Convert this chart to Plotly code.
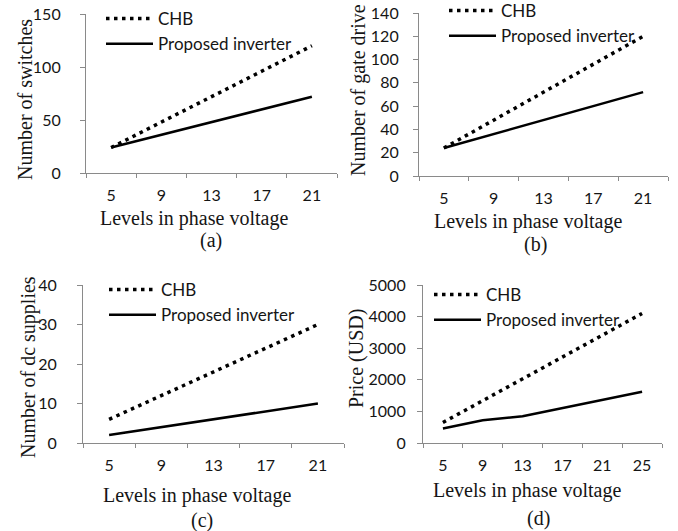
import plotly.graph_objects as go

# Levels in the phase voltage (category axis)
levels_abc = ["5", "9", "13", "17", "21"]
levels_d = ["5", "9", "13", "17", "21", "25"]

# (a) Number of switches
switches_chb = [24, 48, 72, 96, 120]
switches_prop = [24, 36, 48, 60, 72]

# (b) Number of gate drives
gate_chb = [24, 48, 72, 96, 120]
gate_prop = [24, 36, 48, 60, 72]

# (c) Number of dc supplies
dc_chb = [6, 12, 18, 24, 30]
dc_prop = [2, 4, 6, 8, 10]

# (d) Price in USD
price_chb = [650, 1340, 2030, 2720, 3410, 4100]
price_prop = [460, 720, 850, 1100, 1350, 1620]

y_titles = ["Number of switches", "Number of gate drive", "Number of dc supplies", "Price (USD)"]
x_title = "Levels in phase voltage"
panel_tags = ["(a)", "(b)", "(c)", "(d)"]

W, H = 678, 531
SANS = "Lato, 'Open Sans', sans-serif"
SERIF = "'Liberation Serif', 'Times New Roman', serif"
AXIS_GREY = "#8a8a8a"
INK = "#151515"

# panel boxes in pixels: (x0, x1, ytop, ybottom)
boxes = [(86, 337, 14, 173), (419, 668, 13, 176), (83, 344, 285, 443), (423, 662, 285, 443)]
y_ranges = [(0, 150, 50), (0, 140, 20), (0, 40, 10), (0, 5000, 1000)]
y_standoff = [16, 11, 17, 8]

panels = [
    (levels_abc, switches_chb, switches_prop),
    (levels_abc, gate_chb, gate_prop),
    (levels_abc, dc_chb, dc_prop),
    (levels_d, price_chb, price_prop),
]

# label placement (pixels): y-title centre, x-title centre, tag centre, legend top-left
ytitle_pos = [(25, 100), (358, 90), (28, 367), (356, 359)]
xtitle_pos = [(194, 218), (528, 222), (197, 495), (527, 490)]
tag_pos = [(211, 240), (535, 244), (202, 520), (538, 518)]
legend_pos = [(101, 1), (444, -7), (104, 272), (429, 277)]

fig = go.Figure()
layout = dict(
    width=W, height=H,
    margin=dict(l=0, r=0, t=0, b=0, autoexpand=False),
    paper_bgcolor="white", plot_bgcolor="white",
    showlegend=True,
    annotations=[],
)

for i, (cats, chb, prop) in enumerate(panels):
    n = i + 1
    sfx = "" if n == 1 else str(n)
    xa, ya = "x" + sfx, "y" + sfx
    leg = "legend" + sfx
    x0, x1, yt, yb = boxes[i]

    fig.add_trace(go.Scatter(
        x=cats, y=chb, mode="lines", name="CHB",
        line=dict(color="black", width=3.5, dash="3.5px,4.5px"),
        xaxis=xa, yaxis=ya, legend=leg,
    ))
    fig.add_trace(go.Scatter(
        x=cats, y=prop, mode="lines", name="Proposed inverter",
        line=dict(color="black", width=2.5),
        xaxis=xa, yaxis=ya, legend=leg,
    ))

    lo, hi, step = y_ranges[i]
    layout["xaxis" + sfx] = dict(
        domain=[x0 / W, x1 / W], anchor=ya, type="category",
        range=[-0.5, len(cats) - 0.5], tickson="boundaries",
        ticks="outside", ticklen=4, tickcolor=AXIS_GREY, tickwidth=1,
        showline=True, linecolor=AXIS_GREY, linewidth=1.2,
        showgrid=False, zeroline=False, fixedrange=True,
        tickfont=dict(family=SANS, size=16, color=INK),
        ticklabelstandoff=8,
    )
    layout["yaxis" + sfx] = dict(
        domain=[1 - yb / H, 1 - yt / H], anchor=xa,
        range=[lo, hi], dtick=step, tick0=0,
        ticks="outside", ticklen=5, tickcolor=AXIS_GREY, tickwidth=1,
        showline=True, linecolor=AXIS_GREY, linewidth=1.2,
        showgrid=False, zeroline=False, fixedrange=True,
        tickfont=dict(family=SANS, size=16, color=INK),
        ticklabelstandoff=y_standoff[i],
    )
    lx, ly = legend_pos[i]
    layout[leg] = dict(
        x=lx / W, y=1 - ly / H, xanchor="left", yanchor="top",
        xref="paper", yref="paper",
        bgcolor="rgba(0,0,0,0)", borderwidth=0,
        font=dict(family=SANS, size=17, color=INK),
        itemwidth=47, tracegroupgap=0,
    )

    ax, ay = ytitle_pos[i]
    layout["annotations"].append(dict(
        x=ax / W, y=1 - ay / H, xref="paper", yref="paper",
        text=y_titles[i], textangle=-90, showarrow=False,
        font=dict(family=SERIF, size=20, color=INK),
        xanchor="center", yanchor="middle",
    ))
    tx, ty = xtitle_pos[i]
    layout["annotations"].append(dict(
        x=tx / W, y=1 - ty / H, xref="paper", yref="paper",
        text=x_title, showarrow=False,
        font=dict(family=SERIF, size=20, color=INK),
        xanchor="center", yanchor="middle",
    ))
    gx, gy = tag_pos[i]
    layout["annotations"].append(dict(
        x=gx / W, y=1 - gy / H, xref="paper", yref="paper",
        text=panel_tags[i], showarrow=False,
        font=dict(family=SERIF, size=20, color=INK),
        xanchor="center", yanchor="middle",
    ))

fig.update_layout(**layout)
fig.write_html("out.html")
